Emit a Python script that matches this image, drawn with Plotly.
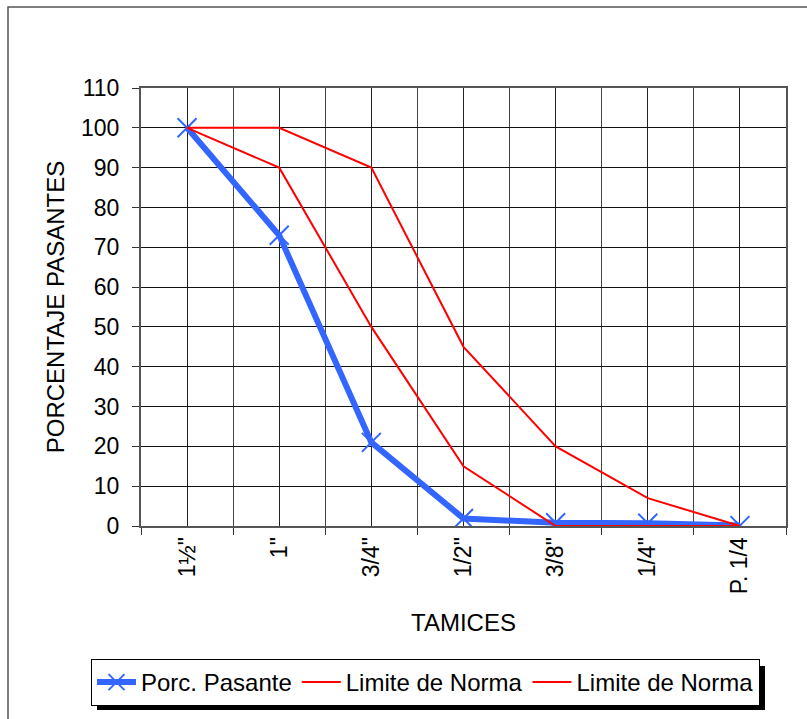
import plotly.graph_objects as go

categories = ['1½"', '1"', '3/4"', '1/2"', '3/8"', '1/4"', 'P. 1/4']
porc_pasante = [100, 73, 21, 1.9, 0.8, 0.7, 0.1]
limite_sup = [100, 100, 90, 45, 20, 7, 0]
limite_inf = [100, 90, 50, 15, 0, 0, 0]
y_ticks = list(range(0, 111, 10))

xi = list(range(len(categories)))
bounds = [i - 0.5 for i in range(len(categories) + 1)]

FONT = "Liberation Sans, Arial, sans-serif"

fig = go.Figure()
fig.add_trace(go.Scatter(
    x=xi, y=porc_pasante, name="Porc. Pasante", mode="lines+markers",
    line=dict(color="#3366FF", width=6),
    marker=dict(symbol="x-thin", size=19, line=dict(color="#3366FF", width=2)),
))
fig.add_trace(go.Scatter(
    x=xi, y=limite_sup, name="Limite de Norma", mode="lines",
    line=dict(color="#FF0000", width=2),
))
fig.add_trace(go.Scatter(
    x=xi, y=limite_inf, name="Limite de Norma", mode="lines",
    line=dict(color="#FF0000", width=2),
))

L, R, T, B = 141, 786, 88, 526
W, H = 807, 719
pw, ph = R - L, B - T

def px(x):
    return (x - L) / pw

def py(y):
    return (B - y) / ph

fig.update_layout(
    width=W, height=H,
    margin=dict(l=L, r=W - R, t=T, b=H - B, autoexpand=False),
    paper_bgcolor="white", plot_bgcolor="white",
    font=dict(family=FONT, size=24, color="black"),
    showlegend=True,
    legend=dict(
        orientation="h", x=px(91), xanchor="left", y=py(659), yanchor="top",
        bgcolor="white", bordercolor="black", borderwidth=1,
        font=dict(size=24, family=FONT), itemwidth=39,
        tracegroupgap=0,
    ),
    shapes=[
        dict(type="rect", xref="paper", yref="paper",
             x0=px(8), x1=px(840), y0=py(740), y1=py(7),
             line=dict(color="#555555", width=1.5), fillcolor="rgba(0,0,0,0)", layer="below"),
        dict(type="rect", xref="paper", yref="paper",
             x0=px(97), x1=px(765), y0=py(710), y1=py(666),
             line=dict(width=0), fillcolor="black", layer="above"),
    ],
)

fig.update_xaxes(
    range=[-0.5, len(categories) - 0.5],
    tickmode="array", tickvals=xi, ticktext=categories, tickangle=-90,
    ticks="", showgrid=True, gridcolor="#222222", gridwidth=1,
    minor=dict(tickmode="array", tickvals=bounds, ticks="outside", ticklen=7,
               tickcolor="#333333", showgrid=True, gridcolor="#444444", gridwidth=1),
    showline=True, linecolor="#555555", linewidth=2, mirror=True,
    zeroline=False,
    title=dict(text="TAMICES", font=dict(size=24), standoff=21),
    tickfont=dict(size=23),
)
fig.update_yaxes(
    range=[0, 110], tickmode="array", tickvals=y_ticks,
    ticks="outside", ticklen=7, tickcolor="#333333",
    showgrid=True, gridcolor="#111111", gridwidth=1,
    showline=True, linecolor="#555555", linewidth=2, mirror=True,
    zeroline=False, ticklabelstandoff=8,
    title=dict(text="PORCENTAJE PASANTES", font=dict(size=24), standoff=10),
    tickfont=dict(size=23),
)

fig.write_html("out.html")
